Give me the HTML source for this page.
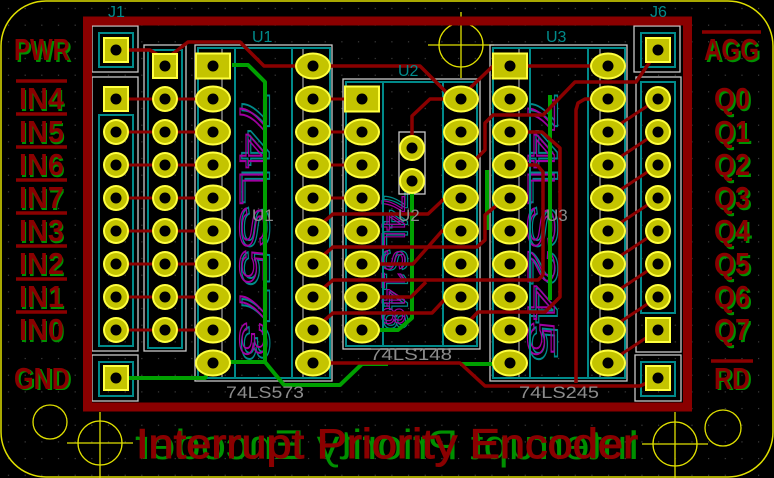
<!DOCTYPE html>
<html><head><meta charset="utf-8"><style>
html,body{margin:0;padding:0;background:#000;}
svg{display:block;}
text{font-family:"Liberation Sans",sans-serif;}
</style></head><body>
<svg width="774" height="478" viewBox="0 0 774 478" xmlns="http://www.w3.org/2000/svg">
<defs>
<pattern id="grid" width="16.67" height="16.67" patternUnits="userSpaceOnUse">
<rect x="8" y="8" width="1" height="1" fill="#5a5a5a"/>
</pattern>
<g id="op"><ellipse cx="0" cy="0" rx="18" ry="13.5" fill="#ffff40"/><ellipse cx="0" cy="0" rx="16" ry="11.5" fill="#c4c400"/><circle r="5.5" fill="#000"/></g>
<g id="rp"><circle r="13" fill="#ffff40"/><circle r="11" fill="#c4c400"/><circle r="5.5" fill="#000"/></g>
<g id="sq"><rect x="-13" y="-13" width="26" height="26" fill="#ffff40"/><rect x="-11" y="-11" width="22" height="22" fill="#c4c400"/><circle r="5.5" fill="#000"/></g>
<g id="so"><rect x="-18" y="-13.5" width="36" height="27" fill="#ffff40"/><rect x="-16" y="-11.5" width="32" height="23" fill="#c4c400"/><circle r="5.5" fill="#000"/></g>
</defs>
<rect width="774" height="478" fill="#000"/>
<rect width="774" height="478" fill="url(#grid)"/>
<rect x="1" y="1" width="772" height="476" rx="45" fill="none" stroke="#e0e000" stroke-width="1.5"/>
<g fill="none" stroke="#e0e000" stroke-width="1.3">
<circle cx="50" cy="422" r="17"/>
<circle cx="100" cy="443" r="22"/><line x1="67" y1="443" x2="133" y2="443"/><line x1="100" y1="412" x2="100" y2="478"/>
<circle cx="461" cy="45" r="22"/><line x1="428" y1="45" x2="494" y2="45"/><line x1="461" y1="12" x2="461" y2="78"/>
<circle cx="675" cy="444" r="22"/><line x1="642" y1="444" x2="708" y2="444"/><line x1="675" y1="412" x2="675" y2="478"/>
<circle cx="723" cy="428" r="18"/>
</g>
<g fill="none">
<text x="0" y="0" transform="translate(242,92) rotate(90)" font-size="40" stroke="#008a8a" stroke-width="1.2" textLength="270" lengthAdjust="spacingAndGlyphs">74LS573</text>
<text x="0" y="0" transform="translate(240,97) rotate(90)" font-size="38" stroke="#a000a0" stroke-width="1.2" textLength="260" lengthAdjust="spacingAndGlyphs">74LS573</text>
<text x="0" y="0" transform="translate(530,92) rotate(90)" font-size="40" stroke="#008a8a" stroke-width="1.2" textLength="270" lengthAdjust="spacingAndGlyphs">74LS245</text>
<text x="0" y="0" transform="translate(528,97) rotate(90)" font-size="38" stroke="#a000a0" stroke-width="1.2" textLength="260" lengthAdjust="spacingAndGlyphs">74LS245</text>
<text x="0" y="0" transform="translate(384,190) rotate(90)" font-size="34" stroke="#008a8a" stroke-width="1.2" textLength="140" lengthAdjust="spacingAndGlyphs">74LS148</text>
<text x="0" y="0" transform="translate(382,195) rotate(90)" font-size="32" stroke="#a000a0" stroke-width="1.2" textLength="130" lengthAdjust="spacingAndGlyphs">74LS148</text>
</g>
<g fill="none" stroke="#c8c8c8" stroke-width="1.3">
<rect x="92" y="26" width="46" height="46"/>
<rect x="92" y="77" width="46" height="274"/>
<rect x="92" y="355" width="46" height="46"/>
<rect x="144" y="45" width="42" height="306"/>
<rect x="195" y="45" width="137" height="336"/>
<rect x="343" y="79" width="137" height="270"/>
<rect x="490" y="45" width="137" height="336"/>
<rect x="634" y="26" width="46" height="46"/>
<rect x="636" y="77" width="45" height="275"/>
<rect x="635" y="355" width="46" height="46"/>
<line x1="222" y1="48" x2="222" y2="378" stroke-width="1"/><line x1="303" y1="48" x2="303" y2="378" stroke-width="1"/>
<line x1="519" y1="48" x2="519" y2="378" stroke-width="1"/><line x1="600" y1="48" x2="600" y2="378" stroke-width="1"/>
<rect x="399" y="132" width="26" height="62"/>
</g>
<g fill="none" stroke="#008a8a" stroke-width="2">
<rect x="99" y="33" width="34" height="34"/>
<rect x="99" y="115" width="34" height="231"/>
<rect x="99" y="362" width="34" height="34"/>
<rect x="148" y="50" width="34" height="298"/>
<rect x="198" y="48" width="132" height="330"/>
<line x1="235" y1="48" x2="235" y2="378"/><line x1="292" y1="48" x2="292" y2="378"/>
<rect x="346" y="82" width="131" height="264"/>
<line x1="383" y1="82" x2="383" y2="346"/><line x1="443" y1="82" x2="443" y2="346"/>
<rect x="493" y="48" width="132" height="330"/>
<line x1="530" y1="48" x2="530" y2="378"/><line x1="588" y1="48" x2="588" y2="378"/>
<rect x="641" y="33" width="34" height="34"/>
<rect x="641" y="82" width="34" height="231"/>
<rect x="641" y="362" width="34" height="34"/>
</g>
<rect x="87.5" y="21" width="600" height="386" fill="none" stroke="#8a0000" stroke-width="9"/>
<g fill="none" stroke="#00a000" stroke-width="4" stroke-linejoin="round">
<polyline points="125,378 205,378 213,363"/>
<polyline points="232,65 248,65 265,82 265,362 213,362"/>
<polyline points="265,362 284,385 340,385 362,364 388,364"/>
<polyline points="460,364 508,364"/>
<polyline points="412,181 412,318 398,330 362,330"/>
<polyline points="550,95 550,300"/>
<polyline points="487,170 487,230"/>
</g>
<g fill="none" stroke="#8a0000" stroke-width="3.5" stroke-linejoin="round">
<polyline points="116,50 150,50 158,55 165,65"/>
<polyline points="170,56 188,42 240,42 264,66 420,66 453,99 461,99"/>
<polyline points="461,99 470,88 493,66 608,66"/>
<polyline points="461,99 430,99 412,116 412,148"/>
<polyline points="658,50 636,82 575,82 543,115 493,115 485,123 485,150 475,160 461,165"/>
<polyline points="608,99 585,99 578,103 576,110 576,383"/>
<polyline points="510,132 542,132 560,148 560,297 545,312 478,312 461,330"/>
<polyline points="510,165 537,165 543,172 543,275 538,280 333,280 313,297"/>
<polyline points="313,231 333,214 428,214 445,198 461,198"/>
<polyline points="313,264 333,247 477,247 485,240 485,215 497,205 508,198"/>
<polyline points="362,264 413,264 442,231 461,231"/>
<polyline points="362,297 411,297 426,282"/>
<polyline points="313,330 333,313 432,313 447,297 461,297"/>
<polyline points="313,363 460,363 485,386 640,386 658,378"/>
<g stroke-width="3">
<line x1="116" y1="99" x2="213" y2="99"/><line x1="116" y1="132" x2="213" y2="132"/>
<line x1="116" y1="165" x2="213" y2="165"/><line x1="116" y1="198" x2="213" y2="198"/>
<line x1="116" y1="231" x2="213" y2="231"/><line x1="116" y1="264" x2="213" y2="264"/>
<line x1="116" y1="297" x2="213" y2="297"/><line x1="116" y1="330" x2="213" y2="330"/>
<line x1="313" y1="99" x2="362" y2="99"/><line x1="313" y1="132" x2="362" y2="132"/>
<line x1="313" y1="165" x2="362" y2="165"/><line x1="313" y1="198" x2="362" y2="198"/>
<line x1="608" y1="132" x2="658" y2="99"/><line x1="608" y1="165" x2="658" y2="132"/>
<line x1="608" y1="198" x2="658" y2="165"/><line x1="608" y1="231" x2="658" y2="198"/>
<line x1="608" y1="264" x2="658" y2="231"/><line x1="608" y1="297" x2="658" y2="264"/>
<line x1="608" y1="330" x2="658" y2="297"/><line x1="608" y1="363" x2="658" y2="330"/>
</g>
</g>
<use href="#sq" x="116" y="50"/>
<use href="#sq" x="116" y="99"/>
<use href="#rp" x="116" y="132"/><use href="#rp" x="116" y="165"/><use href="#rp" x="116" y="198"/><use href="#rp" x="116" y="231"/><use href="#rp" x="116" y="264"/><use href="#rp" x="116" y="297"/><use href="#rp" x="116" y="330"/>
<use href="#sq" x="116" y="378"/>
<use href="#sq" x="165" y="66"/>
<use href="#rp" x="165" y="99"/><use href="#rp" x="165" y="132"/><use href="#rp" x="165" y="165"/><use href="#rp" x="165" y="198"/><use href="#rp" x="165" y="231"/><use href="#rp" x="165" y="264"/><use href="#rp" x="165" y="297"/><use href="#rp" x="165" y="330"/>
<use href="#so" x="213" y="66"/>
<use href="#op" x="213" y="99"/><use href="#op" x="213" y="132"/><use href="#op" x="213" y="165"/><use href="#op" x="213" y="198"/><use href="#op" x="213" y="231"/><use href="#op" x="213" y="264"/><use href="#op" x="213" y="297"/><use href="#op" x="213" y="330"/><use href="#op" x="213" y="363"/>
<use href="#op" x="313" y="66"/><use href="#op" x="313" y="99"/><use href="#op" x="313" y="132"/><use href="#op" x="313" y="165"/><use href="#op" x="313" y="198"/><use href="#op" x="313" y="231"/><use href="#op" x="313" y="264"/><use href="#op" x="313" y="297"/><use href="#op" x="313" y="330"/><use href="#op" x="313" y="363"/>
<use href="#so" x="362" y="99"/>
<use href="#op" x="362" y="132"/><use href="#op" x="362" y="165"/><use href="#op" x="362" y="198"/><use href="#op" x="362" y="231"/><use href="#op" x="362" y="264"/><use href="#op" x="362" y="297"/><use href="#op" x="362" y="330"/>
<use href="#op" x="461" y="99"/><use href="#op" x="461" y="132"/><use href="#op" x="461" y="165"/><use href="#op" x="461" y="198"/><use href="#op" x="461" y="231"/><use href="#op" x="461" y="264"/><use href="#op" x="461" y="297"/><use href="#op" x="461" y="330"/>
<use href="#rp" x="412" y="148"/><use href="#rp" x="412" y="181"/>
<use href="#so" x="510" y="66"/>
<use href="#op" x="510" y="99"/><use href="#op" x="510" y="132"/><use href="#op" x="510" y="165"/><use href="#op" x="510" y="198"/><use href="#op" x="510" y="231"/><use href="#op" x="510" y="264"/><use href="#op" x="510" y="297"/><use href="#op" x="510" y="330"/><use href="#op" x="510" y="363"/>
<use href="#op" x="608" y="66"/><use href="#op" x="608" y="99"/><use href="#op" x="608" y="132"/><use href="#op" x="608" y="165"/><use href="#op" x="608" y="198"/><use href="#op" x="608" y="231"/><use href="#op" x="608" y="264"/><use href="#op" x="608" y="297"/><use href="#op" x="608" y="330"/><use href="#op" x="608" y="363"/>
<use href="#sq" x="658" y="50"/>
<use href="#rp" x="658" y="99"/><use href="#rp" x="658" y="132"/><use href="#rp" x="658" y="165"/><use href="#rp" x="658" y="198"/><use href="#rp" x="658" y="231"/><use href="#rp" x="658" y="264"/><use href="#rp" x="658" y="297"/>
<use href="#sq" x="658" y="330"/>
<use href="#sq" x="658" y="378"/>
<g fill="#008a8a" font-size="16">
<text x="108" y="17">J1</text>
<text x="252" y="42">U1</text>
<text x="398" y="76">U2</text>
<text x="546" y="42">U3</text>
<text x="650" y="17">J6</text>
</g>
<g fill="#8c8c8c" font-size="17">
<text x="252" y="221">U1</text>
<text x="398" y="221">U2</text>
<text x="546" y="221">U3</text>
<text x="226" y="398" textLength="78" lengthAdjust="spacingAndGlyphs">74LS573</text>
<text x="370" y="360" textLength="82" lengthAdjust="spacingAndGlyphs">74LS148</text>
<text x="519" y="398" textLength="80" lengthAdjust="spacingAndGlyphs">74LS245</text>
</g>
<g font-size="31" font-weight="bold" fill="#009000">
<text x="16" y="62" textLength="56" lengthAdjust="spacingAndGlyphs">PWR</text>
<text x="20" y="111" textLength="45" lengthAdjust="spacingAndGlyphs">IN4</text>
<text x="20" y="144" textLength="45" lengthAdjust="spacingAndGlyphs">IN5</text>
<text x="20" y="177" textLength="45" lengthAdjust="spacingAndGlyphs">IN6</text>
<text x="20" y="210" textLength="45" lengthAdjust="spacingAndGlyphs">IN7</text>
<text x="20" y="243" textLength="45" lengthAdjust="spacingAndGlyphs">IN3</text>
<text x="20" y="276" textLength="45" lengthAdjust="spacingAndGlyphs">IN2</text>
<text x="20" y="309" textLength="45" lengthAdjust="spacingAndGlyphs">IN1</text>
<text x="20" y="342" textLength="45" lengthAdjust="spacingAndGlyphs">IN0</text>
<text x="16" y="390" textLength="56" lengthAdjust="spacingAndGlyphs">GND</text>
<text x="706" y="62" textLength="55" lengthAdjust="spacingAndGlyphs">AGG</text>
<text x="716" y="111" textLength="36" lengthAdjust="spacingAndGlyphs">Q0</text>
<text x="716" y="144" textLength="36" lengthAdjust="spacingAndGlyphs">Q1</text>
<text x="716" y="177" textLength="36" lengthAdjust="spacingAndGlyphs">Q2</text>
<text x="716" y="210" textLength="36" lengthAdjust="spacingAndGlyphs">Q3</text>
<text x="716" y="243" textLength="36" lengthAdjust="spacingAndGlyphs">Q4</text>
<text x="716" y="276" textLength="36" lengthAdjust="spacingAndGlyphs">Q5</text>
<text x="716" y="309" textLength="36" lengthAdjust="spacingAndGlyphs">Q6</text>
<text x="716" y="342" textLength="36" lengthAdjust="spacingAndGlyphs">Q7</text>
<text x="716" y="390" textLength="36" lengthAdjust="spacingAndGlyphs">RD</text>
</g>
<g font-size="31" font-weight="bold" fill="#8a0000">
<text x="14" y="60" textLength="56" lengthAdjust="spacingAndGlyphs">PWR</text>
<text x="19" y="109" textLength="45" lengthAdjust="spacingAndGlyphs">IN4</text>
<text x="19" y="142" textLength="45" lengthAdjust="spacingAndGlyphs">IN5</text>
<text x="19" y="175" textLength="45" lengthAdjust="spacingAndGlyphs">IN6</text>
<text x="19" y="208" textLength="45" lengthAdjust="spacingAndGlyphs">IN7</text>
<text x="19" y="241" textLength="45" lengthAdjust="spacingAndGlyphs">IN3</text>
<text x="19" y="274" textLength="45" lengthAdjust="spacingAndGlyphs">IN2</text>
<text x="19" y="307" textLength="45" lengthAdjust="spacingAndGlyphs">IN1</text>
<text x="19" y="340" textLength="45" lengthAdjust="spacingAndGlyphs">IN0</text>
<text x="14" y="389" textLength="56" lengthAdjust="spacingAndGlyphs">GND</text>
<text x="704" y="60" textLength="55" lengthAdjust="spacingAndGlyphs">AGG</text>
<text x="714" y="109" textLength="36" lengthAdjust="spacingAndGlyphs">Q0</text>
<text x="714" y="142" textLength="36" lengthAdjust="spacingAndGlyphs">Q1</text>
<text x="714" y="175" textLength="36" lengthAdjust="spacingAndGlyphs">Q2</text>
<text x="714" y="208" textLength="36" lengthAdjust="spacingAndGlyphs">Q3</text>
<text x="714" y="241" textLength="36" lengthAdjust="spacingAndGlyphs">Q4</text>
<text x="714" y="274" textLength="36" lengthAdjust="spacingAndGlyphs">Q5</text>
<text x="714" y="307" textLength="36" lengthAdjust="spacingAndGlyphs">Q6</text>
<text x="714" y="340" textLength="36" lengthAdjust="spacingAndGlyphs">Q7</text>
<text x="714" y="389" textLength="36" lengthAdjust="spacingAndGlyphs">RD</text>
</g>
<g stroke="#8a0000" stroke-width="3.5">
<line x1="16" y1="81" x2="67" y2="81"/><line x1="16" y1="114" x2="67" y2="114"/>
<line x1="16" y1="147" x2="67" y2="147"/><line x1="16" y1="180" x2="67" y2="180"/>
<line x1="16" y1="213" x2="67" y2="213"/><line x1="16" y1="246" x2="67" y2="246"/>
<line x1="16" y1="279" x2="67" y2="279"/><line x1="16" y1="312" x2="67" y2="312"/>
<line x1="702" y1="32" x2="761" y2="32"/>
<line x1="711" y1="361" x2="753" y2="361"/>
</g>
<text x="0" y="0" transform="translate(640,459) scale(-1,1)" font-size="42" fill="#009000" textLength="505" lengthAdjust="spacingAndGlyphs">Interrupt Priority Encoder</text>
<text x="136" y="458" font-size="42" fill="#8a0000" stroke="#8a0000" stroke-width="1" textLength="502" lengthAdjust="spacingAndGlyphs">Interrupt Priority Encoder</text>
</svg>
</body></html>
